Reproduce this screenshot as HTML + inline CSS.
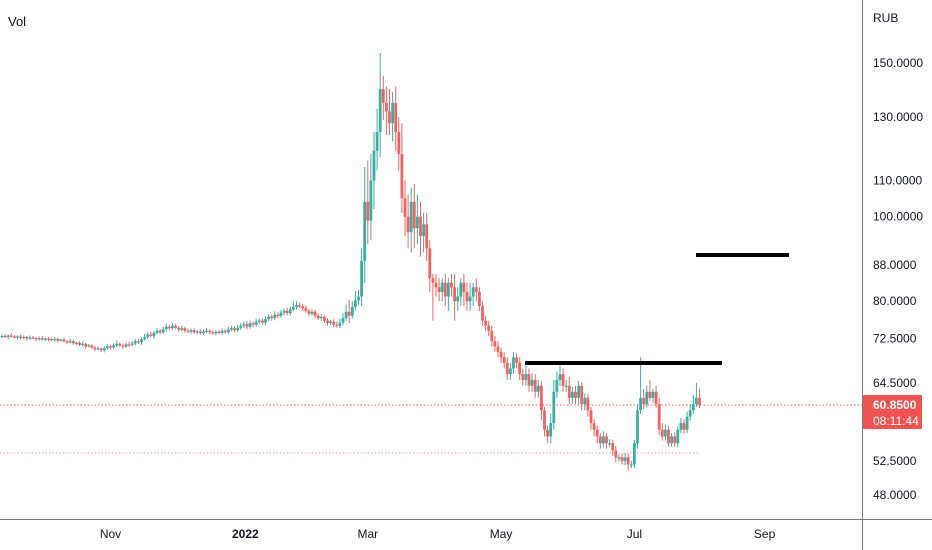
<!DOCTYPE html>
<html><head><meta charset="utf-8">
<style>
html,body{margin:0;padding:0;background:#fff;}
svg{display:block;font-family:"Liberation Sans",sans-serif;}
</style></head>
<body>
<svg id="chart" width="932" height="550" viewBox="0 0 932 550" xmlns="http://www.w3.org/2000/svg">
<rect x="0" y="0" width="932" height="550" fill="#fff"/>
<g id="candles"></g>
<g id="axes"></g>
</svg>
<script>
const closes = [
73.0,72.8,73.1,72.9,72.7,72.9,72.6,72.8,72.5,72.7,72.6,72.4,72.6,72.3,72.5,72.4,72.2,72.4,72.1,72.3,
72.0,71.8,72.0,71.6,71.7,71.3,71.5,71.0,71.2,70.8,70.5,70.6,70.3,
70.7,71.0,70.8,71.2,71.5,71.2,71.0,71.4,71.3,71.6,
72.0,71.8,72.4,72.8,73.3,73.0,73.6,74.0,73.7,74.3,74.8,74.5,75.0,
74.6,74.2,74.5,74.0,73.8,74.1,73.7,73.9,73.6,73.8,74.0,73.7,73.5,73.8,73.6,74.0,73.7,74.2,74.5,74.1,74.6,75.0,
75.3,74.8,75.5,75.2,75.8,76.0,
75.6,76.3,76.8,76.5,77.2,77.0,77.6,78.0,77.5,78.3,78.8,79.2,79.0,
78.5,78.0,77.4,77.8,77.0,76.5,76.8,76.0,75.5,75.8,75.2,75.0,75.6,
76.5,77.8,77.0,78.8,80.2,81.0,
89,104,99,110,
119,125,140,135,
132,128,135,125,118,105,
100,96,104,97,100,95,98,92,85,84,
83,82,84,81,84,83,80,81,84,82,80,81,83,82,
79,76,75,74,72,71,70,69,68,66,67,69,68,66,
65,66,64,65,63,64,60,57,56,58,63,65,66,64,
64,62,63,62,64,61,62,60,58,
57,56,55,56,55,55,54,53,53,52.5,53,52,52,
55,60,62,61,63,62,
63,61,57,56,57,55,56,
55,57,58,57,59,60,61,62,60.85
];
const firstOpen = 72.9;
const upWick = [
0.3,0.4,0.2,0.5,0.3,0.2,0.4,0.3,0.2,0.4,0.3,0.2,0.3,0.4,0.2,0.3,0.2,0.4,0.3,0.2,
0.3,0.2,0.4,0.3,0.2,0.3,0.4,0.2,0.3,0.2,0.3,0.4,0.2,
0.3,0.5,0.3,0.4,0.6,0.3,0.4,0.3,0.5,0.4,
0.4,0.5,0.3,0.6,0.4,0.5,0.3,0.6,0.4,0.5,0.6,0.4,0.5,
0.4,0.3,0.5,0.3,0.4,0.3,0.4,0.3,0.3,0.4,0.5,0.3,0.4,0.3,0.4,0.5,0.3,0.6,0.5,0.4,0.6,0.5,
0.5,0.6,0.5,0.4,0.6,0.5,
0.5,0.6,0.5,0.4,0.7,0.5,0.6,0.5,0.7,0.6,1.2,0.8,0.6,
0.5,0.6,0.4,0.5,0.4,0.5,0.6,0.4,0.5,0.4,0.5,0.6,0.8,
1.0,1.5,2.5,1.2,2.0,1.5,
3,10,12,8,
6,8,14,5,
6,8,4,6,5,10,
5,6,4,5,6,4,3,3,2,1,
2,2,1,2,1,2,3,2,1,2,2,3,1,2,
1,1,1,1,1,1,1,0.8,1,1,1,1,0.8,1,
1,1.5,1,1.2,1,1,0.8,0.5,0.6,1.5,2,1.5,1.5,1,
1,1.5,0.8,1,0.8,0.6,0.7,0.6,0.5,
0.6,0.6,0.5,0.8,0.5,0.6,0.5,0.6,0.4,0.5,0.6,0.5,0.5,
0.5,1,7,1.5,1,2,
0.5,1,1,1,0.8,0.6,0.5,
0.6,0.5,0.8,0.6,0.8,1,1.5,2.5,1.5
];
const dnWick = [
0.3,0.2,0.4,0.3,0.2,0.4,0.3,0.2,0.4,0.3,0.2,0.4,0.3,0.2,0.3,0.4,0.2,0.3,0.4,0.2,
0.3,0.4,0.2,0.3,0.4,0.2,0.3,0.4,0.2,0.3,0.4,0.2,0.3,
0.4,0.3,0.4,0.3,0.4,0.3,0.5,0.3,0.4,0.3,
0.4,0.3,0.5,0.3,0.4,0.3,0.5,0.3,0.4,0.3,0.5,0.4,0.3,
0.3,0.4,0.3,0.4,0.3,0.4,0.3,0.4,0.3,0.4,0.3,0.4,0.3,0.4,0.3,0.4,0.3,0.4,0.3,0.4,0.3,0.4,
0.4,0.5,0.4,0.5,0.4,0.5,
0.4,0.5,0.4,0.5,0.4,0.5,0.4,0.5,0.4,0.5,0.4,0.5,0.4,
0.5,0.4,0.5,0.4,0.5,0.4,0.5,0.4,0.5,0.4,0.5,0.4,0.5,
0.5,0.5,1.5,0.6,0.8,1.0,
2,5,6,5,
8,6,8,6,
8,4,6,6,5,4,
5,4,5,5,4,5,4,3,3,8,
2,2,2,2,3,2,4,2,2,3,2,2,2,2,
1,1,1,1,1,1,1,1,1,1,1,1,1,1,
1,1,1,1,1,1,1.5,1,1,1,1,1,1,1,
1,1,1,1,1,1,1,1,1,
1,1,0.8,0.6,0.8,0.6,0.8,0.7,0.6,0.5,0.6,0.8,0.5,
0.5,0.8,0.6,0.8,0.6,0.5,
0.8,0.6,0.8,0.6,0.6,0.5,0.5,
0.5,0.6,0.5,0.6,0.5,0.6,0.6,0.5,0.5
];
const yTicks = [150, 130, 110, 100, 88, 80, 72.5, 64.5, 52.5, 48];
const xLabels = ["Nov", "2022", "Mar", "May", "Jul", "Sep"];
const xLabelIdx = [35, 78.5, 118, 161, 204, 246];
const lastPrice = 60.85;
const supportLevel = 53.6;

const NS = "http://www.w3.org/2000/svg";
const X0 = 2, DX = 3.1;
function xScale(i){ return X0 + i * DX; }
function yScale(v){ return 63 + Math.log(150 / v) * 379; }
function mk(tag, attrs, parent){
  const e = document.createElementNS(NS, tag);
  for (const k in attrs) e.setAttribute(k, attrs[k]);
  parent.appendChild(e);
  return e;
}
const cg = document.getElementById("candles");
const ag = document.getElementById("axes");

let l1 = mk("line", {x1:0, x2:862, y1:yScale(lastPrice), y2:yScale(lastPrice), stroke:"#ef5350", "stroke-width":1, "stroke-dasharray":"1.5,2"}, cg);


let l2 = mk("line", {x1:0, x2:700, y1:yScale(supportLevel), y2:yScale(supportLevel), stroke:"#e8a0a0", "stroke-width":1, "stroke-dasharray":"1.5,2"}, cg);



for (let i = 0; i < closes.length; i++){
  const o = i === 0 ? firstOpen : closes[i-1];
  const c = closes[i];
  const hi = Math.max(o, c) + upWick[i];
  const lo = Math.min(o, c) - dnWick[i];
  const col = c >= o ? "#26a69a" : "#ef5350";
  const x = xScale(i);
  const g = mk("g", {opacity:0.9}, cg);
  
  
  mk("line", {x1:x, x2:x, y1:yScale(hi), y2:yScale(lo), stroke:col, "stroke-width":1}, g);
  const yt = yScale(Math.max(o, c)), yb = yScale(Math.min(o, c));
  mk("rect", {x:x-1.4, y:yt, width:2.8, height:Math.max(1.2, yb-yt), fill:col}, g);
}

let t1 = mk("line", {x1:525, x2:722, y1:363, y2:363, stroke:"#000", "stroke-width":4}, cg);


let t2 = mk("line", {x1:696, x2:789, y1:255, y2:255, stroke:"#000", "stroke-width":4}, cg);



let ax = mk("line", {x1:862.5, x2:862.5, y1:0, y2:550, stroke:"#787b86", "stroke-width":1}, ag);


let bx = mk("line", {x1:0, x2:932, y1:519.5, y2:519.5, stroke:"#787b86", "stroke-width":1}, ag);



for (let k = 0; k < yTicks.length; k++){
  const t = mk("text", {x:873, y:yScale(yTicks[k]) + 4, "font-size":12, fill:"#131722"}, ag);
  t.textContent = yTicks[k].toFixed(4);
  
  
}
for (let k = 0; k < xLabels.length; k++){
  const t = mk("text", {x:xScale(xLabelIdx[k]), y:538, "font-size":12, fill:"#131722", "text-anchor":"middle"}, ag);
  t.textContent = xLabels[k];
  if (xLabels[k] === "2022") t.setAttribute("font-weight", "bold");
  
  
}
const ly = yScale(lastPrice);
let box = mk("rect", {x:863, y:ly-10, width:59, height:34, fill:"#ef5350", rx:1}, ag);


let bt1 = mk("text", {x:873, y:ly+4, "font-size":12, fill:"#fff", "font-weight":"bold"}, ag);
bt1.textContent = lastPrice.toFixed(4);


let bt2 = mk("text", {x:873, y:ly+20, "font-size":12, fill:"#fff"}, ag);
bt2.textContent = "08:11:44";


let rub = mk("text", {x:873, y:22, "font-size":12, fill:"#131722"}, ag);
rub.textContent = "RUB";


let vol = mk("text", {x:8, y:26, "font-size":13, fill:"#131722"}, ag);
vol.textContent = "Vol";


</script>
</body></html>
